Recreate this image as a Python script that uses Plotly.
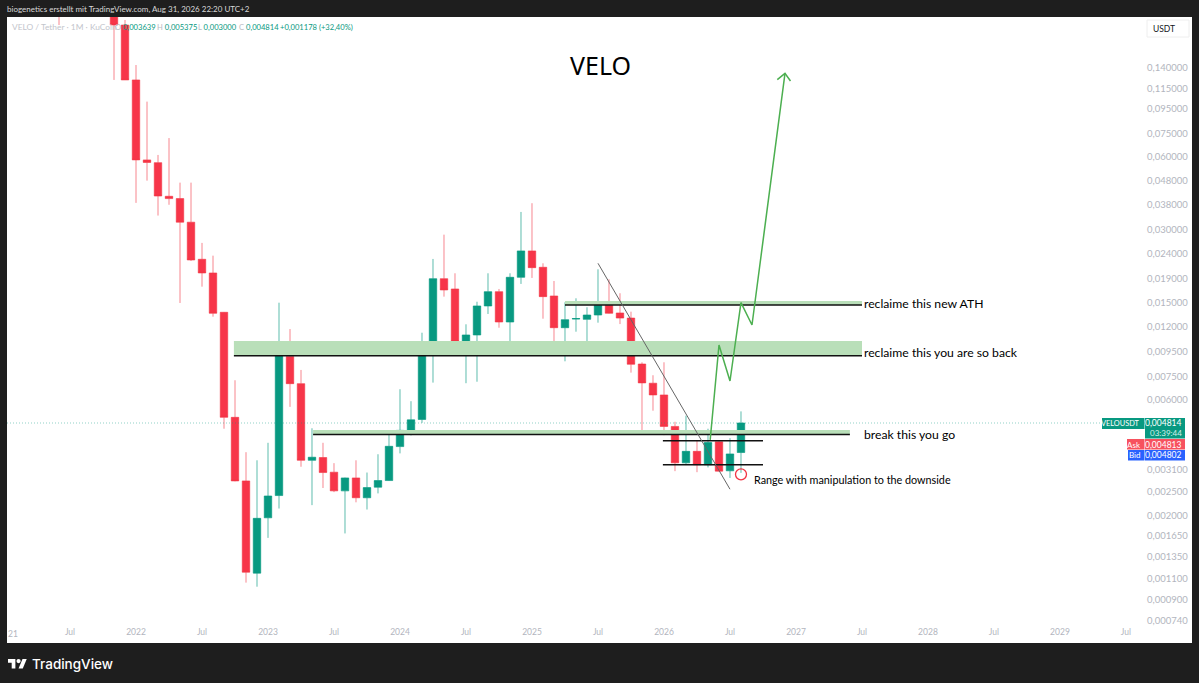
import plotly.graph_objects as go

W, H = 1199, 683

# Monthly bars, counted in months from Jan 2021
bar_index = [5, 10, 11, 12, 13, 14, 15, 16, 17, 18, 19, 20, 21, 22, 23, 24, 25, 26, 27, 28, 29, 30, 31, 32, 33, 34, 35, 36,
             37, 38, 39, 40, 41, 42, 43, 44, 45, 46, 47, 48, 49, 50, 51, 52, 53, 54, 55, 56, 57, 58, 59, 60, 61, 62, 63, 64, 65, 66, 67]
opens = [.30, .25, .2094, .1244, .0583, .0568, .0413, .0404, .0323, .02273, .01996, .01375, .00508, .00278, .00116, .00196, .00242,
         .00904, .00699, .00338, .00347, .00302, .00253, .00286, .00237, .00262, .00279, .00385,
         .00449, .00498, .00928, .01891, .01715, .0104, .01109, .0146, .01672, .01254, .01916, .0246, .02107, .01605, .01188, .0129,
         .01286, .0134, .01469, .01366, .01302, .00842, .00702, .00628, .00466, .0033, .00368, .00324, .00403, .00306, .003639]
highs = [.32, .30, .2196, .1433, .1013, .0611, .0717, .0470, .0470, .02654, .02352, .01379, .00722, .00365, .00338, .00399, .01506,
         .01173, .00796, .00458, .00399, .00329, .00287, .00338, .00301, .00358, .00446, .00663,
         .00592, .01133, .0228, .0287, .0199, .01227, .0152, .0199, .01715, .0199, .0356, .03867, .02188, .0185, .01512, .0157,
         .01442, .02067, .0188, .01647, .01383, .00856, .00757, .00856, .00487, .00516, .00407, .00456, .00406, .00417, .005375]
lows = [.2094, .1244, .1244, .0388, .0479, .0344, .0381, .01502, .02237, .01753, .01319, .00456, .00277, .00106, .00102, .00162, .00214,
        .00561, .00318, .00221, .0026, .0025, .00169, .00227, .00212, .00247, .00278, .00361,
        .00428, .00482, .00706, .01595, .00932, .00702, .00712, .01353, .01188, .01034, .01799, .01904, .01294, .01024, .00864, .01144,
        .00999, .01246, .01358, .0123, .00776, .0045, .00541, .00429, .00305, .00323, .00302, .00316, .00304, .00286, .003]
closes = [.28, .2094, .1244, .0583, .0569, .0414, .0404, .0323, .02258, .01996, .01362, .00508, .00278, .00117, .00195, .00241, .00908,
          .00699, .00338, .00348, .00301, .00253, .00286, .00237, .00261, .00279, .00386, .00449,
          .00496, .00932, .01891, .01699, .0104, .01109, .0146, .01672, .01254, .01916, .0246, .02099, .01595, .01188, .01282, .01295,
          .0134, .01469, .01362, .01302, .0084, .00704, .00628, .00466, .0033, .00368, .00324, .004, .00305, .00359, .004814]

# Drawings
zone_mid_x, zone_mid_y = [20.9, 78], [.01047, .0091]
zone_top_x, zone_top_y = [51, 78], [.0153, .01473]
zone_low_x, zone_low_y = [28.1, 76.9], [.0045, .00432]
range_x, range_levels = [59.9, 69], [.00407, .00324]
trend_x, trend_y = [54, 66], [.02188, .00257]
path_x, path_y = [64.2, 65, 66, 67, 68, 71], [.0041, .01008, .00717, .01506, .01219, .1325]
head_x, head_y = [70.3, 71, 71.5], [.1248, .1325, .1232]
circle_x, circle_y = [67], [.00296]
last_price = .004814

# Axes
x_tick_vals = [6, 12, 18, 24, 30, 36, 42, 48, 54, 60, 66, 72, 78, 84, 90, 96, 102]
x_tick_text = ["Jul", "2022", "Jul", "2023", "Jul", "2024", "Jul", "2025", "Jul", "2026", "Jul", "2027", "Jul", "2028", "Jul", "2029", "Jul"]
y_tick_vals = [.14, .115, .095, .075, .06, .048, .038, .03, .024, .019, .015, .012, .0095, .0075, .006,
               .0031, .0025, .002, .00165, .00135, .0011, .0009, .00074]
y_tick_text = ["0,140000", "0,115000", "0,095000", "0,075000", "0,060000", "0,048000", "0,038000", "0,030000", "0,024000",
               "0,019000", "0,015000", "0,012000", "0,009500", "0,007500", "0,006000",
               "0,003100", "0,002500", "0,002000", "0,001650", "0,001350", "0,001100", "0,000900", "0,000740"]

X_RANGE = [0.2727, 103.82]
Y_RANGE = [-3.1491, -0.6460]
FONT = "Lato"
GREY = "#b2b5be"
TEAL = "#089981"
RED = "#f23645"
GREEN_ZONE = "rgb(185,223,185)"


def px(x):
    return x / W


def py(y):
    return 1 - y / H


def rect(x0, y0, x1, y1, color, line=None, layer="below"):
    return dict(type="rect", xref="paper", yref="paper", x0=px(x0), x1=px(x1), y0=py(y0), y1=py(y1),
                fillcolor=color, line=dict(width=1 if line else 0, color=line or color), layer=layer)


def label(x, y, text, size=9, color="#000", anchor="left", family=FONT, weight=None):
    font = dict(family=family, size=size, color=color)
    if weight:
        font["weight"] = weight
    return dict(xref="paper", yref="paper", x=px(x), y=py(y), text=text, showarrow=False, xanchor=anchor,
                yanchor="middle", borderpad=0, font=font)


def pair(letter, value):
    return f'<span style="color:#b9bbc3">{letter}</span> {value}'


fig = go.Figure()


def zone(xs, ys):
    fig.add_trace(go.Scatter(x=[xs[0], xs[1], xs[1], xs[0], xs[0]], y=[ys[0], ys[0], ys[1], ys[1], ys[0]],
                             mode="lines", fill="toself", fillcolor=GREEN_ZONE, line=dict(width=0), hoverinfo="skip"))
    fig.add_trace(go.Scatter(x=xs, y=[ys[1], ys[1]], mode="lines", line=dict(color="#111", width=1.5), hoverinfo="skip"))


zone(zone_mid_x, zone_mid_y)
zone(zone_top_x, zone_top_y)
zone(zone_low_x, zone_low_y)
for level in range_levels:
    fig.add_trace(go.Scatter(x=range_x, y=[level, level], mode="lines", line=dict(color="#111", width=1.5), hoverinfo="skip"))
fig.add_trace(go.Scatter(x=X_RANGE, y=[last_price, last_price], mode="lines",
                         line=dict(color="rgba(8,153,129,0.45)", width=1, dash="1px,2px"), hoverinfo="skip"))

fig.add_trace(go.Candlestick(
    x=bar_index, open=opens, high=highs, low=lows, close=closes,
    increasing=dict(fillcolor=TEAL, line=dict(color="rgba(8,153,129,0.65)", width=1)),
    decreasing=dict(fillcolor="#f73549", line=dict(color="rgba(242,54,69,0.6)", width=1)),
    hoverinfo="skip"))

fig.add_trace(go.Scatter(x=trend_x, y=trend_y, mode="lines", line=dict(color="#666", width=1), hoverinfo="skip"))
fig.add_trace(go.Scatter(x=path_x, y=path_y, mode="lines", line=dict(color="#4caf50", width=1.5), hoverinfo="skip"))
fig.add_trace(go.Scatter(x=head_x, y=head_y, mode="lines", line=dict(color="#4caf50", width=1.5), hoverinfo="skip"))
fig.add_trace(go.Scatter(x=circle_x, y=circle_y, mode="markers",
                         marker=dict(symbol="circle-open", size=11, color=RED, line=dict(color=RED, width=1.3)), hoverinfo="skip"))

# TradingView mark, viewbox 36x18 mapped on x 8..27, y 659..668.5
s = 19 / 36
def lx(v):
    return px(8 + v * s)
def ly(v):
    return py(659 + (v - 4) * s)
def poly(points):
    return "M" + " L".join(f"{lx(a):.5f},{ly(b):.5f}" for a, b in points) + " Z"

shapes = [
    rect(7, 17, 1192, 643, "#ffffff"),
    rect(1147, 20, 1189, 37, "#ffffff", line="#eeeeee"),
    # last price, ask and bid tags
    rect(1102, 418, 1144.5, 429, TEAL, layer="above"),
    rect(1145, 418, 1185, 438.5, TEAL, layer="above"),
    rect(1127, 439, 1144.5, 449.5, "#f7525f", layer="above"),
    rect(1145, 439, 1185, 449.5, "#f7525f", layer="above"),
    rect(1128, 450, 1144.5, 460.5, "#2962ff", layer="above"),
    rect(1145, 450, 1185, 460.5, "#2962ff", layer="above"),
    dict(type="path", xref="paper", yref="paper", line=dict(width=0), fillcolor="#ffffff", layer="above",
         path=poly([(0, 4), (14, 4), (14, 22), (7, 22), (7, 11), (0, 11)])),
    dict(type="path", xref="paper", yref="paper", line=dict(width=0), fillcolor="#ffffff", layer="above",
         path=poly([(27.5, 4), (35.5, 4), (28, 22), (20, 22)])),
    dict(type="circle", xref="paper", yref="paper", line=dict(width=0), fillcolor="#ffffff", layer="above",
         x0=lx(16), x1=lx(24), y0=ly(12), y1=ly(4)),
]

LEGEND_SIZE = 7.6
annotations = [
    label(5.5, 9.5, "biogenetics erstellt mit TradingView.com, Aug 31, 2026 22:20 UTC+2", 8, "#d8d8d8"),
    label(11, 27, "VELO / Tether · 1M · KuCoin", 8.4, "#c3c5cc"),
    label(114, 27, pair("O", "0,003639"), LEGEND_SIZE, TEAL),
    label(156, 27, pair("H", "0,005375"), LEGEND_SIZE, TEAL),
    label(197, 27, pair("L", "0,003000"), LEGEND_SIZE, TEAL),
    label(238, 27, pair("C", "0,004814"), LEGEND_SIZE, TEAL),
    label(279, 27, "+0,001178 (+32,40%)", LEGEND_SIZE, TEAL),
    label(600, 65, "VELO", 25, "#000", "center", "Noto Sans"),
    label(862.5, 303, "reclaime this new ATH", 12.2),
    label(862.5, 352, "reclaime this you are so back", 12.2),
    label(862.5, 434, "break this you go", 12.2),
    label(752.5, 479, "Range with manipulation to the downside", 10.8),
    label(6.5, 634, "21", 8.5, GREY),
    label(1152, 29, "USDT", 8.5, "#131722"),
    label(1141, 423.5, "VELOUSDT", 7.4, "#ffffff", "right"),
    label(1183, 423.5, "0,004814", 8.5, "#ffffff", "right"),
    label(1183, 433, "03:39:44", 8, "#d4efe9", "right"),
    label(1142, 444.5, "Ask", 8, "#ffffff", "right"),
    label(1183, 444.5, "0,004813", 8.5, "#ffffff", "right"),
    label(1142, 455.5, "Bid", 8, "#ffffff", "right"),
    label(1183, 455.5, "0,004802", 8.5, "#ffffff", "right"),
    label(31, 663.5, "TradingView", 13.5, "#ffffff", family="Inter", weight=500),
]

fig.update_layout(
    width=W, height=H, margin=dict(l=0, r=0, t=0, b=0, pad=0),
    paper_bgcolor="#1e1e1e", plot_bgcolor="rgba(0,0,0,0)", showlegend=False,
    boxgap=0.03,
    shapes=shapes, annotations=annotations, hovermode=False,
    xaxis=dict(domain=[px(7), px(1146)], range=X_RANGE, showgrid=False, zeroline=False, showline=False,
               rangeslider=dict(visible=False), tickmode="array", tickvals=x_tick_vals, ticktext=x_tick_text,
               ticks="", tickfont=dict(family=FONT, size=8.5, color=GREY)),
    yaxis=dict(domain=[py(625), py(17)], type="log", range=Y_RANGE, side="right", showgrid=False, zeroline=False,
               showline=False, tickmode="array", tickvals=y_tick_vals, ticktext=y_tick_text, ticks="",
               tickfont=dict(family=FONT, size=9.5, color=GREY)),
)

fig.write_html("out.html", config={"displayModeBar": False},
               post_script="document.body.style.margin='0';document.body.style.overflow='hidden';")
